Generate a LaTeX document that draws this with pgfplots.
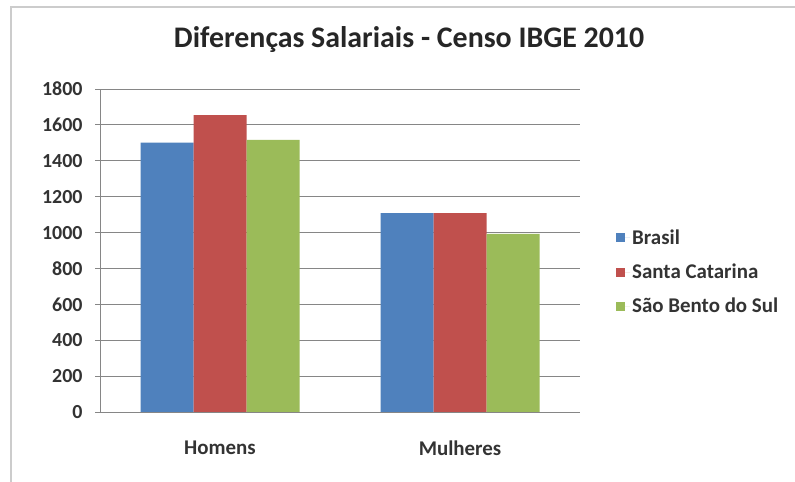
\documentclass[border=0pt]{standalone}
\usepackage{pgfplots}
\pgfplotsset{compat=1.18}
\usepackage{fontspec}
\setmainfont{Carlito}
\definecolor{brasil}{HTML}{4F81BD}
\definecolor{sc}{HTML}{C0504D}
\definecolor{sbs}{HTML}{9BBB59}
\definecolor{gridc}{HTML}{868686}
\begin{document}
\begin{tikzpicture}
\fill[white] (0,0) rectangle (795bp,482bp);
\path[use as bounding box] (0,0) rectangle (795bp,482bp);
\draw[black!20, line width=2bp] (11bp,0) -- (11bp,475bp) -- (795bp,475bp);
\begin{axis}[
  at={(100bp,70bp)}, anchor=south west,
  scale only axis, width=480bp, height=323bp,
  ybar=0pt, bar width=53bp,
  xmin=-0.5, xmax=1.5, ymin=0, ymax=1800,
  xtick={0,1}, xticklabels={Homens, Mulheres},
  extra x ticks={-0.5,0.5,1.5}, extra x tick labels={},
  extra x tick style={major tick length=5bp, tick style={gridc}, grid=none},
  ytick={0,200,...,1800},
  ymajorgrids, grid style={gridc, line width=0.9bp},
  axis x line*=bottom, axis y line*=left,
  axis line style={gridc, line width=0.9bp},
  x tick style={draw=none},
  y tick style={gridc, line width=0.9bp},
  tick align=outside, major tick length=5bp,
  /pgf/number format/1000 sep={},
  /pgf/number format/assume math mode=true,
  tick label style={font=\fontsize{20}{22}\selectfont\bfseries, text=black!80},
  yticklabel style={xshift=-9bp},
  xticklabel style={font=\fontsize{21}{23}\selectfont\bfseries, yshift=-20bp},
  title={Diferenças Salariais - Censo IBGE 2010},
  title style={font=\fontsize{30}{32}\selectfont\bfseries, text=black!85, at={(0.644,1.136)}, anchor=center},
  legend style={draw=none, at={(1.075,0.433)}, anchor=west, font=\fontsize{21}{23}\selectfont\bfseries, text=black!80, row sep=14bp, inner sep=0pt},
  legend cell align=left,
  legend image code/.code={\fill[#1] (0bp,-4.5bp) rectangle (9bp,4.5bp); \path (0bp,0bp) -- (14bp,0bp);},
]
\addplot[fill=brasil, draw=none] coordinates {(0,1501) (1,1108)};
\addplot[fill=sc, draw=none] coordinates {(0,1655) (1,1108)};
\addplot[fill=sbs, draw=none] coordinates {(0,1516) (1,993)};
\legend{Brasil, Santa Catarina, São Bento do Sul}
\end{axis}
\end{tikzpicture}
\end{document}
